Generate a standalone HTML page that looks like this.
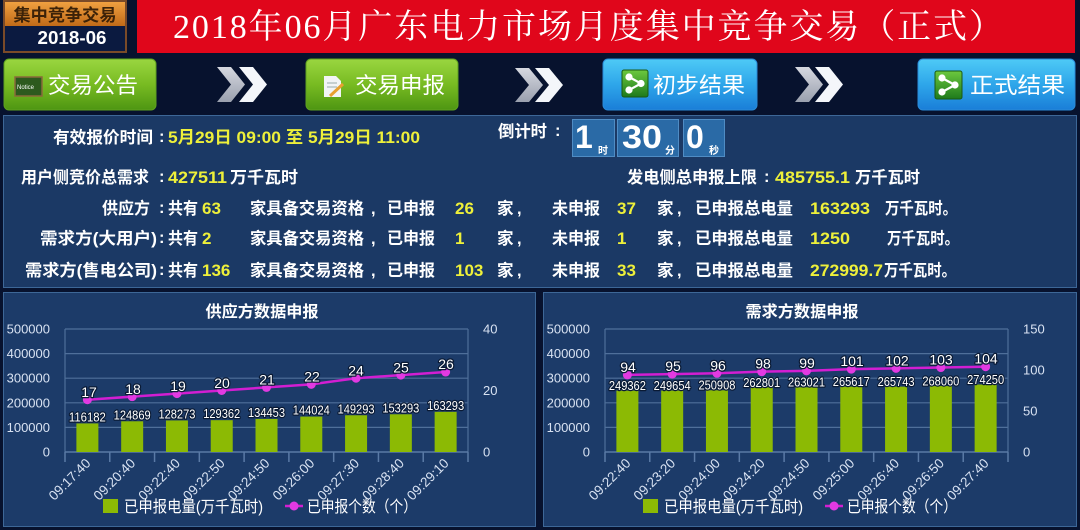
<!DOCTYPE html>
<html><head><meta charset="utf-8"><style>
html,body{margin:0;padding:0;background:#07122e;}
svg{display:block;}
.s{font-family:"Liberation Sans","Noto Sans CJK SC",sans-serif;}
.w{fill:#ffffff;font-weight:bold;font-size:16.5px;}
.y{fill:#eef03a;font-weight:bold;font-size:17px;}
.ax{fill:#d8e2f2;font-size:13px;}
.dl{fill:#ffffff;font-size:12.5px;stroke:#0a1a34;stroke-width:2.5px;paint-order:stroke;stroke-linejoin:round;}
.ll{fill:#ffffff;font-size:14px;stroke:#0a1a34;stroke-width:2.5px;paint-order:stroke;stroke-linejoin:round;}
.xl{fill:#d8e2f2;font-size:13.5px;}
.lg{fill:#ffffff;font-size:16px;}
.bt{fill:#ffffff;font-size:22px;}
</style></head><body>
<svg width="1080" height="530" viewBox="0 0 1080 530" xmlns="http://www.w3.org/2000/svg" class="s">
<defs>
<linearGradient id="gOr" x1="0" y1="0" x2="0" y2="1"><stop offset="0" stop-color="#f0a040"/><stop offset="1" stop-color="#c06a18"/></linearGradient>
<linearGradient id="gGr" x1="0" y1="0" x2="0" y2="1"><stop offset="0" stop-color="#9ad640"/><stop offset="0.5" stop-color="#78bb22"/><stop offset="1" stop-color="#4e9612"/></linearGradient>
<linearGradient id="gBl" x1="0" y1="0" x2="0" y2="1"><stop offset="0" stop-color="#4ecaf6"/><stop offset="0.5" stop-color="#2ea6ea"/><stop offset="1" stop-color="#1a7ed8"/></linearGradient>
<linearGradient id="gIc" x1="0" y1="0" x2="0" y2="1"><stop offset="0" stop-color="#6cc83e"/><stop offset="1" stop-color="#1e7a1c"/></linearGradient>
<linearGradient id="gCg" x1="0" y1="0" x2="0" y2="1"><stop offset="0" stop-color="#d6d8e0"/><stop offset="1" stop-color="#9aa0ae"/></linearGradient>
</defs>

<rect x="0" y="0" width="1080" height="530" fill="#07122e"/>

<rect x="4" y="1" width="122" height="51" fill="#0b1a40" stroke="#7a4a28" stroke-width="2"/>
<rect x="5" y="2" width="120" height="24" fill="url(#gOr)"/>
<text x="65" y="21" text-anchor="middle" font-size="17" font-weight="bold" fill="#3c2208" textLength="103" lengthAdjust="spacingAndGlyphs">集中竞争交易</text>
<text x="72" y="44" text-anchor="middle" font-size="18.5" font-weight="bold" fill="#ffffff" textLength="69" lengthAdjust="spacingAndGlyphs">2018-06</text>

<rect x="137" y="0" width="938" height="53" fill="#e0061b"/>
<text x="173" y="38" font-family="Liberation Serif,Noto Serif CJK SC,serif" font-size="34" fill="#ffffff" textLength="830" lengthAdjust="spacing">2018年06月广东电力市场月度集中竞争交易（正式）</text>

<rect x="4" y="59" width="152" height="51" rx="5" fill="url(#gGr)" stroke="#5ea020" stroke-width="1"/>
<rect x="15" y="77" width="27" height="19" fill="#2d5a1e" stroke="#8a6a3a" stroke-width="1.5"/>
<text x="17" y="89" font-size="6" fill="#ffffff">Notice</text>
<text x="48" y="93" class="bt" textLength="90" lengthAdjust="spacingAndGlyphs">交易公告</text>

<polygon points="217,67 231,67 245,84.5 231,102 217,102 231,84.5" fill="url(#gCg)"/>
<polygon points="239,67 253,67 267,84.5 253,102 239,102 253,84.5" fill="#f4f6fa"/>

<rect x="306" y="59" width="152" height="51" rx="5" fill="url(#gGr)" stroke="#5ea020" stroke-width="1"/>
<polygon points="324,76 336,76 341,81 341,97 324,97" fill="#f2f4f6"/>
<line x1="327" y1="83" x2="337" y2="83" stroke="#9aa" stroke-width="1"/>
<line x1="327" y1="87" x2="337" y2="87" stroke="#9aa" stroke-width="1"/>
<line x1="330" y1="96" x2="343" y2="84" stroke="#e8a030" stroke-width="3"/>
<text x="355" y="93" class="bt" textLength="90" lengthAdjust="spacingAndGlyphs">交易申报</text>

<polygon points="515,68 529,68 543,85 529,102 515,102 529,85" fill="url(#gCg)"/>
<polygon points="535,68 549,68 563,85 549,102 535,102 549,85" fill="#f4f6fa"/>

<rect x="603" y="59" width="154" height="51" rx="5" fill="url(#gBl)" stroke="#2a8ad8" stroke-width="1"/>
<rect x="622" y="70" width="26" height="27" rx="2" fill="url(#gIc)" stroke="#1a5a14" stroke-width="1"/>
<g stroke="#ffffff" stroke-width="2.2" fill="#ffffff"><line x1="629" y1="77" x2="641" y2="83.5"/><line x1="629" y1="90" x2="641" y2="83.5"/><circle cx="629" cy="77" r="2.5"/><circle cx="629" cy="90" r="2.5"/><circle cx="641" cy="83.5" r="2.5"/></g>
<text x="653" y="93" class="bt" textLength="92" lengthAdjust="spacingAndGlyphs">初步结果</text>

<polygon points="795,67 809,67 823,84.5 809,102 795,102 809,84.5" fill="url(#gCg)"/>
<polygon points="815,67 829,67 843,84.5 829,102 815,102 829,84.5" fill="#f4f6fa"/>

<rect x="918" y="59" width="157" height="51" rx="5" fill="url(#gBl)" stroke="#2a8ad8" stroke-width="1"/>
<rect x="935" y="71" width="27" height="28" rx="2" fill="url(#gIc)" stroke="#1a5a14" stroke-width="1"/>
<g stroke="#ffffff" stroke-width="2.2" fill="#ffffff"><line x1="942" y1="78" x2="955" y2="85"/><line x1="942" y1="92" x2="955" y2="85"/><circle cx="942" cy="78" r="2.5"/><circle cx="942" cy="92" r="2.5"/><circle cx="955" cy="85" r="2.5"/></g>
<text x="970" y="93" class="bt" textLength="95" lengthAdjust="spacingAndGlyphs">正式结果</text>

<rect x="3.5" y="115.5" width="1073" height="172" fill="#1b3965" stroke="#3d6797" stroke-width="1"/>

<text x="53" y="143" class="w" textLength="100" lengthAdjust="spacingAndGlyphs">有效报价时间</text>
<text x="159" y="142" class="w">:</text>
<text x="168" y="143" class="y" textLength="252" lengthAdjust="spacingAndGlyphs">5月29日 09:00 至 5月29日 11:00</text>

<text x="498" y="137" class="w" textLength="49" lengthAdjust="spacingAndGlyphs">倒计时</text>
<text x="555" y="136" class="w">:</text>
<rect x="572.5" y="119.5" width="42" height="37" fill="#2a6aa6" stroke="#4f8cc4" stroke-width="1"/>
<rect x="617.5" y="119.5" width="61" height="37" fill="#2a6aa6" stroke="#4f8cc4" stroke-width="1"/>
<rect x="683.5" y="119.5" width="41" height="37" fill="#2a6aa6" stroke="#4f8cc4" stroke-width="1"/>
<text x="575" y="148" font-size="32" font-weight="bold" fill="#ffffff">1</text>
<text x="598" y="154" font-size="10" font-weight="bold" fill="#ffffff">时</text>
<text x="622" y="148" font-size="32" font-weight="bold" fill="#ffffff" textLength="40" lengthAdjust="spacingAndGlyphs">30</text>
<text x="665" y="154" font-size="10" font-weight="bold" fill="#ffffff">分</text>
<text x="686" y="148" font-size="32" font-weight="bold" fill="#ffffff">0</text>
<text x="709" y="154" font-size="10" font-weight="bold" fill="#ffffff">秒</text>

<text x="21" y="183" class="w" textLength="128" lengthAdjust="spacingAndGlyphs">用户侧竞价总需求</text>
<text x="159" y="182" class="w">:</text>
<text x="168" y="183" class="y" textLength="59" lengthAdjust="spacingAndGlyphs">427511</text>
<text x="230" y="183" class="w" textLength="68" lengthAdjust="spacingAndGlyphs">万千瓦时</text>

<text x="627" y="183" class="w" textLength="130" lengthAdjust="spacingAndGlyphs">发电侧总申报上限</text>
<text x="764" y="182" class="w">:</text>
<text x="775" y="183" class="y" textLength="75" lengthAdjust="spacingAndGlyphs">485755.1</text>
<text x="855" y="183" class="w" textLength="65" lengthAdjust="spacingAndGlyphs">万千瓦时</text>

<text x="102" y="214" class="w" textLength="48" lengthAdjust="spacingAndGlyphs">供应方</text>
<text x="159" y="213" class="w">:</text>
<text x="168" y="214" class="w" textLength="30" lengthAdjust="spacingAndGlyphs">共有</text>
<text x="202" y="214" class="y">63</text>
<text x="250" y="214" class="w" textLength="114" lengthAdjust="spacingAndGlyphs">家具备交易资格</text>
<text x="371" y="214" class="w">,</text>
<text x="387" y="214" class="w" textLength="48" lengthAdjust="spacingAndGlyphs">已申报</text>
<text x="455" y="214" class="y">26</text>
<text x="497" y="214" class="w">家</text>
<text x="517" y="214" class="w">,</text>
<text x="552" y="214" class="w" textLength="48" lengthAdjust="spacingAndGlyphs">未申报</text>
<text x="617" y="214" class="y">37</text>
<text x="657" y="214" class="w">家</text>
<text x="677" y="214" class="w">,</text>
<text x="695" y="214" class="w" textLength="98" lengthAdjust="spacingAndGlyphs">已申报总电量</text>
<text x="810" y="214" class="y" textLength="60" lengthAdjust="spacingAndGlyphs">163293</text>
<text x="885" y="214" class="w" textLength="72" lengthAdjust="spacingAndGlyphs">万千瓦时。</text>

<text x="40" y="244" class="w" textLength="117" lengthAdjust="spacingAndGlyphs">需求方(大用户)</text>
<text x="159" y="243" class="w">:</text>
<text x="168" y="244" class="w" textLength="30" lengthAdjust="spacingAndGlyphs">共有</text>
<text x="202" y="244" class="y">2</text>
<text x="250" y="244" class="w" textLength="114" lengthAdjust="spacingAndGlyphs">家具备交易资格</text>
<text x="371" y="244" class="w">,</text>
<text x="387" y="244" class="w" textLength="48" lengthAdjust="spacingAndGlyphs">已申报</text>
<text x="455" y="244" class="y">1</text>
<text x="497" y="244" class="w">家</text>
<text x="517" y="244" class="w">,</text>
<text x="552" y="244" class="w" textLength="48" lengthAdjust="spacingAndGlyphs">未申报</text>
<text x="617" y="244" class="y">1</text>
<text x="657" y="244" class="w">家</text>
<text x="677" y="244" class="w">,</text>
<text x="695" y="244" class="w" textLength="98" lengthAdjust="spacingAndGlyphs">已申报总电量</text>
<text x="810" y="244" class="y" textLength="40" lengthAdjust="spacingAndGlyphs">1250</text>
<text x="887" y="244" class="w" textLength="72" lengthAdjust="spacingAndGlyphs">万千瓦时。</text>

<text x="25" y="276" class="w" textLength="132" lengthAdjust="spacingAndGlyphs">需求方(售电公司)</text>
<text x="159" y="275" class="w">:</text>
<text x="168" y="276" class="w" textLength="30" lengthAdjust="spacingAndGlyphs">共有</text>
<text x="202" y="276" class="y">136</text>
<text x="250" y="276" class="w" textLength="114" lengthAdjust="spacingAndGlyphs">家具备交易资格</text>
<text x="371" y="276" class="w">,</text>
<text x="387" y="276" class="w" textLength="48" lengthAdjust="spacingAndGlyphs">已申报</text>
<text x="455" y="276" class="y">103</text>
<text x="497" y="276" class="w">家</text>
<text x="517" y="276" class="w">,</text>
<text x="552" y="276" class="w" textLength="48" lengthAdjust="spacingAndGlyphs">未申报</text>
<text x="617" y="276" class="y">33</text>
<text x="657" y="276" class="w">家</text>
<text x="677" y="276" class="w">,</text>
<text x="695" y="276" class="w" textLength="98" lengthAdjust="spacingAndGlyphs">已申报总电量</text>
<text x="810" y="276" class="y" textLength="73" lengthAdjust="spacingAndGlyphs">272999.7</text>
<text x="884" y="276" class="w" textLength="72" lengthAdjust="spacingAndGlyphs">万千瓦时。</text>

<!-- LEFT CHART -->
<rect x="3.5" y="292.5" width="532" height="234" fill="#1c3b69" stroke="#3d6797" stroke-width="1"/>
<text x="262" y="317" text-anchor="middle" font-size="16" font-weight="bold" fill="#ffffff" textLength="113" lengthAdjust="spacingAndGlyphs">供应方数据申报</text>
<g stroke="#4f6f9a" stroke-width="1.2">
<line x1="65" y1="329" x2="468" y2="329"/><line x1="65" y1="353.6" x2="468" y2="353.6"/><line x1="65" y1="378.2" x2="468" y2="378.2"/><line x1="65" y1="402.8" x2="468" y2="402.8"/><line x1="65" y1="427.4" x2="468" y2="427.4"/>
<line x1="65" y1="329" x2="65" y2="452"/><line x1="468" y1="329" x2="468" y2="452"/>
</g>
<g stroke="#5a7aa6" stroke-width="1.5">
<line x1="65" y1="452" x2="468" y2="452"/>
<line x1="65" y1="452" x2="65" y2="462"/><line x1="109.78" y1="452" x2="109.78" y2="462"/><line x1="154.56" y1="452" x2="154.56" y2="462"/><line x1="199.33" y1="452" x2="199.33" y2="462"/><line x1="244.11" y1="452" x2="244.11" y2="462"/><line x1="288.89" y1="452" x2="288.89" y2="462"/><line x1="333.67" y1="452" x2="333.67" y2="462"/><line x1="378.44" y1="452" x2="378.44" y2="462"/><line x1="423.22" y1="452" x2="423.22" y2="462"/><line x1="468" y1="452" x2="468" y2="462"/>
</g>
<g class="ax" text-anchor="end">
<text x="50" y="333.5">500000</text><text x="50" y="358">400000</text><text x="50" y="382.7">300000</text><text x="50" y="407.3">200000</text><text x="50" y="431.9">100000</text><text x="50" y="456.5">0</text>
</g>
<g class="ax"><text x="483" y="333.5">40</text><text x="483" y="395">20</text><text x="483" y="456.5">0</text></g>
<g fill="#8cba04">
<rect x="76.39" y="423.42" width="22" height="28.58"/><rect x="121.17" y="421.28" width="22" height="30.72"/><rect x="165.95" y="420.44" width="22" height="31.56"/><rect x="210.73" y="420.18" width="22" height="31.82"/><rect x="255.51" y="418.92" width="22" height="33.08"/><rect x="300.29" y="416.57" width="22" height="35.43"/><rect x="345.07" y="415.27" width="22" height="36.73"/><rect x="389.85" y="414.29" width="22" height="37.71"/><rect x="434.63" y="411.83" width="22" height="40.17"/>
</g>
<g class="dl" text-anchor="middle">
<text x="87.39" y="421.4" textLength="37" lengthAdjust="spacingAndGlyphs">116182</text><text x="132.17" y="419.3" textLength="37" lengthAdjust="spacingAndGlyphs">124869</text><text x="176.95" y="418.4" textLength="37" lengthAdjust="spacingAndGlyphs">128273</text><text x="221.73" y="418.2" textLength="37" lengthAdjust="spacingAndGlyphs">129362</text><text x="266.51" y="416.9" textLength="37" lengthAdjust="spacingAndGlyphs">134453</text><text x="311.29" y="414.6" textLength="37" lengthAdjust="spacingAndGlyphs">144024</text><text x="356.07" y="413.3" textLength="37" lengthAdjust="spacingAndGlyphs">149293</text><text x="400.85" y="412.3" textLength="37" lengthAdjust="spacingAndGlyphs">153293</text><text x="445.63" y="409.8" textLength="37" lengthAdjust="spacingAndGlyphs">163293</text>
</g>
<polyline points="87.39,399.72 132.17,396.65 176.95,393.57 221.73,390.5 266.51,387.42 311.29,384.35 356.07,378.2 400.85,375.12 445.63,372.05" fill="none" stroke="#d21ed2" stroke-width="2.5"/>
<g fill="#e23ae2">
<circle cx="87.39" cy="399.72" r="4.5"/><circle cx="132.17" cy="396.65" r="4.5"/><circle cx="176.95" cy="393.57" r="4.5"/><circle cx="221.73" cy="390.5" r="4.5"/><circle cx="266.51" cy="387.42" r="4.5"/><circle cx="311.29" cy="384.35" r="4.5"/><circle cx="356.07" cy="378.2" r="4.5"/><circle cx="400.85" cy="375.12" r="4.5"/><circle cx="445.63" cy="372.05" r="4.5"/>
</g>
<g class="ll" text-anchor="middle">
<text x="89" y="397">17</text><text x="133" y="394">18</text><text x="178" y="391">19</text><text x="222" y="388">20</text><text x="267" y="384.5">21</text><text x="312" y="381.5">22</text><text x="356" y="375.5">24</text><text x="401" y="372.5">25</text><text x="446" y="369">26</text>
</g>
<g class="xl" text-anchor="end">
<text x="91.4" y="464" transform="rotate(-45 91.4 464)">09:17:40</text>
<text x="136.2" y="464" transform="rotate(-45 136.2 464)">09:20:40</text>
<text x="181" y="464" transform="rotate(-45 181 464)">09:22:40</text>
<text x="225.7" y="464" transform="rotate(-45 225.7 464)">09:22:50</text>
<text x="270.5" y="464" transform="rotate(-45 270.5 464)">09:24:50</text>
<text x="315.3" y="464" transform="rotate(-45 315.3 464)">09:26:00</text>
<text x="360.1" y="464" transform="rotate(-45 360.1 464)">09:27:30</text>
<text x="404.9" y="464" transform="rotate(-45 404.9 464)">09:28:40</text>
<text x="449.6" y="464" transform="rotate(-45 449.6 464)">09:29:10</text>
</g>
<rect x="103" y="499" width="15" height="14" fill="#8cba04"/>
<text x="124" y="512" class="lg" textLength="139" lengthAdjust="spacingAndGlyphs">已申报电量(万千瓦时)</text>
<line x1="285" y1="506" x2="303" y2="506" stroke="#d21ed2" stroke-width="2.5"/>
<circle cx="294" cy="506" r="4.5" fill="#e23ae2"/>
<text x="307" y="512" class="lg" textLength="110" lengthAdjust="spacingAndGlyphs">已申报个数（个）</text>

<!-- RIGHT CHART -->
<rect x="543.5" y="292.5" width="533" height="234" fill="#1c3b69" stroke="#3d6797" stroke-width="1"/>
<text x="802" y="317" text-anchor="middle" font-size="16" font-weight="bold" fill="#ffffff" textLength="113" lengthAdjust="spacingAndGlyphs">需求方数据申报</text>
<g stroke="#4f6f9a" stroke-width="1.2">
<line x1="605" y1="329" x2="1008" y2="329"/><line x1="605" y1="353.6" x2="1008" y2="353.6"/><line x1="605" y1="378.2" x2="1008" y2="378.2"/><line x1="605" y1="402.8" x2="1008" y2="402.8"/><line x1="605" y1="427.4" x2="1008" y2="427.4"/>
<line x1="605" y1="329" x2="605" y2="452"/><line x1="1008" y1="329" x2="1008" y2="452"/>
</g>
<g stroke="#5a7aa6" stroke-width="1.5">
<line x1="605" y1="452" x2="1008" y2="452"/>
<line x1="605" y1="452" x2="605" y2="462"/><line x1="649.78" y1="452" x2="649.78" y2="462"/><line x1="694.56" y1="452" x2="694.56" y2="462"/><line x1="739.33" y1="452" x2="739.33" y2="462"/><line x1="784.11" y1="452" x2="784.11" y2="462"/><line x1="828.89" y1="452" x2="828.89" y2="462"/><line x1="873.67" y1="452" x2="873.67" y2="462"/><line x1="918.44" y1="452" x2="918.44" y2="462"/><line x1="963.22" y1="452" x2="963.22" y2="462"/><line x1="1008" y1="452" x2="1008" y2="462"/>
</g>
<g class="ax" text-anchor="end">
<text x="590" y="333.5">500000</text><text x="590" y="358">400000</text><text x="590" y="382.7">300000</text><text x="590" y="407.3">200000</text><text x="590" y="431.9">100000</text><text x="590" y="456.5">0</text>
</g>
<g class="ax"><text x="1023" y="333.5">150</text><text x="1023" y="374.5">100</text><text x="1023" y="415.5">50</text><text x="1023" y="456.5">0</text></g>
<g fill="#8cba04">
<rect x="616.39" y="390.66" width="22" height="61.34"/><rect x="661.17" y="390.59" width="22" height="61.41"/><rect x="705.95" y="390.28" width="22" height="61.72"/><rect x="750.73" y="387.35" width="22" height="64.65"/><rect x="795.51" y="387.3" width="22" height="64.7"/><rect x="840.29" y="386.66" width="22" height="65.34"/><rect x="885.07" y="386.63" width="22" height="65.37"/><rect x="929.85" y="386.06" width="22" height="65.94"/><rect x="974.63" y="384.53" width="22" height="67.47"/>
</g>
<polyline points="627.39,374.92 672.17,374.1 716.95,373.28 761.73,371.64 806.51,370.82 851.29,369.18 896.07,368.36 940.85,367.54 985.63,366.72" fill="none" stroke="#d21ed2" stroke-width="2.5"/>
<g fill="#e23ae2">
<circle cx="627.39" cy="374.92" r="4.5"/><circle cx="672.17" cy="374.1" r="4.5"/><circle cx="716.95" cy="373.28" r="4.5"/><circle cx="761.73" cy="371.64" r="4.5"/><circle cx="806.51" cy="370.82" r="4.5"/><circle cx="851.29" cy="369.18" r="4.5"/><circle cx="896.07" cy="368.36" r="4.5"/><circle cx="940.85" cy="367.54" r="4.5"/><circle cx="985.63" cy="366.72" r="4.5"/>
</g>
<g class="dl" text-anchor="middle">
<text x="627.39" y="390" textLength="37" lengthAdjust="spacingAndGlyphs">249362</text><text x="672.17" y="390" textLength="37" lengthAdjust="spacingAndGlyphs">249654</text><text x="716.95" y="389.7" textLength="37" lengthAdjust="spacingAndGlyphs">250908</text><text x="761.73" y="386.8" textLength="37" lengthAdjust="spacingAndGlyphs">262801</text><text x="806.51" y="386.7" textLength="37" lengthAdjust="spacingAndGlyphs">263021</text><text x="851.29" y="386" textLength="37" lengthAdjust="spacingAndGlyphs">265617</text><text x="896.07" y="386" textLength="37" lengthAdjust="spacingAndGlyphs">265743</text><text x="940.85" y="385.5" textLength="37" lengthAdjust="spacingAndGlyphs">268060</text><text x="985.63" y="384" textLength="37" lengthAdjust="spacingAndGlyphs">274250</text>
</g>
<g class="ll" text-anchor="middle">
<text x="628" y="372">94</text><text x="673" y="371">95</text><text x="718" y="370.3">96</text><text x="763" y="368.6">98</text><text x="807" y="367.8">99</text><text x="852" y="366.2">101</text><text x="897" y="365.4">102</text><text x="941" y="364.5">103</text><text x="986" y="363.7">104</text>
</g>
<g class="xl" text-anchor="end">
<text x="631.4" y="464" transform="rotate(-45 631.4 464)">09:22:40</text>
<text x="676.2" y="464" transform="rotate(-45 676.2 464)">09:23:20</text>
<text x="721" y="464" transform="rotate(-45 721 464)">09:24:00</text>
<text x="765.7" y="464" transform="rotate(-45 765.7 464)">09:24:20</text>
<text x="810.5" y="464" transform="rotate(-45 810.5 464)">09:24:50</text>
<text x="855.3" y="464" transform="rotate(-45 855.3 464)">09:25:00</text>
<text x="900.1" y="464" transform="rotate(-45 900.1 464)">09:26:40</text>
<text x="944.9" y="464" transform="rotate(-45 944.9 464)">09:26:50</text>
<text x="989.6" y="464" transform="rotate(-45 989.6 464)">09:27:40</text>
</g>
<rect x="643" y="499" width="15" height="14" fill="#8cba04"/>
<text x="664" y="512" class="lg" textLength="139" lengthAdjust="spacingAndGlyphs">已申报电量(万千瓦时)</text>
<line x1="825" y1="506" x2="843" y2="506" stroke="#d21ed2" stroke-width="2.5"/>
<circle cx="834" cy="506" r="4.5" fill="#e23ae2"/>
<text x="847" y="512" class="lg" textLength="110" lengthAdjust="spacingAndGlyphs">已申报个数（个）</text>
</svg>
</body></html>
